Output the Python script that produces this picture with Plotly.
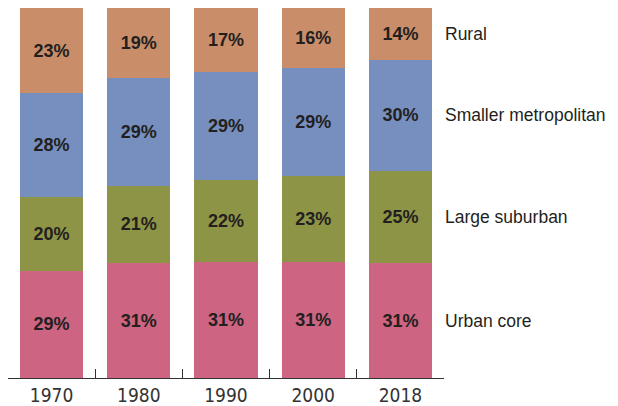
import plotly.graph_objects as go

years = ["1970", "1980", "1990", "2000", "2018"]
urban_core = [29, 31, 31, 31, 31]
large_suburban = [20, 21, 22, 23, 25]
smaller_metro = [28, 29, 29, 29, 30]
rural = [23, 19, 17, 16, 14]

series = [
    ("Urban core", urban_core, "#CC6482"),
    ("Large suburban", large_suburban, "#8E9445"),
    ("Smaller metropolitan", smaller_metro, "#768FBE"),
    ("Rural", rural, "#C98E69"),
]

fig = go.Figure()
for name, vals, color in series:
    fig.add_trace(go.Bar(
        x=years, y=vals, name=name,
        marker=dict(color=color, line=dict(width=0)),
        text=[f"{v}%" for v in vals],
        texttemplate="%{text}",
        textposition="inside",
        insidetextanchor="middle",
        textangle=0,
        textfont=dict(family="Liberation Sans", size=18, color="#231F20", weight="bold"),
        hoverinfo="skip",
    ))

# side labels aligned with the 2018 segments
last = years.index("2018")
total = sum(s[1][last] for s in series)
cum = 0
for name, vals, color in series:
    v = vals[last] * 100 / total
    fig.add_annotation(
        x=1, xref="paper", y=cum + v / 2, yref="y",
        text=name, showarrow=False, xanchor="left", xshift=-1,
        font=dict(family="Liberation Sans", size=17.5, color="#231F20"),
    )
    cum += v

# page body adds an 8px margin, so the figure is a bit smaller
fig.update_layout(
    barmode="stack",
    barnorm="percent",
    bargap=0.277,
    width=610, height=398,
    margin=dict(l=0, r=174, t=0, b=28),
    plot_bgcolor="white",
    paper_bgcolor="white",
    showlegend=False,
    uniformtext=dict(minsize=10, mode="show"),
)
fig.update_xaxes(
    showline=True, linecolor="#333333", linewidth=1,
    ticks="inside", tickson="boundaries", ticklen=9, tickcolor="#333333",
    tickfont=dict(family="Liberation Sans Narrow, Arial Narrow, DejaVu Sans Condensed",
                  size=19, color="#333333"),
    showgrid=False, zeroline=False,
)
fig.update_yaxes(range=[0, 100], visible=False, showgrid=False)

fig.write_html("out.html")
